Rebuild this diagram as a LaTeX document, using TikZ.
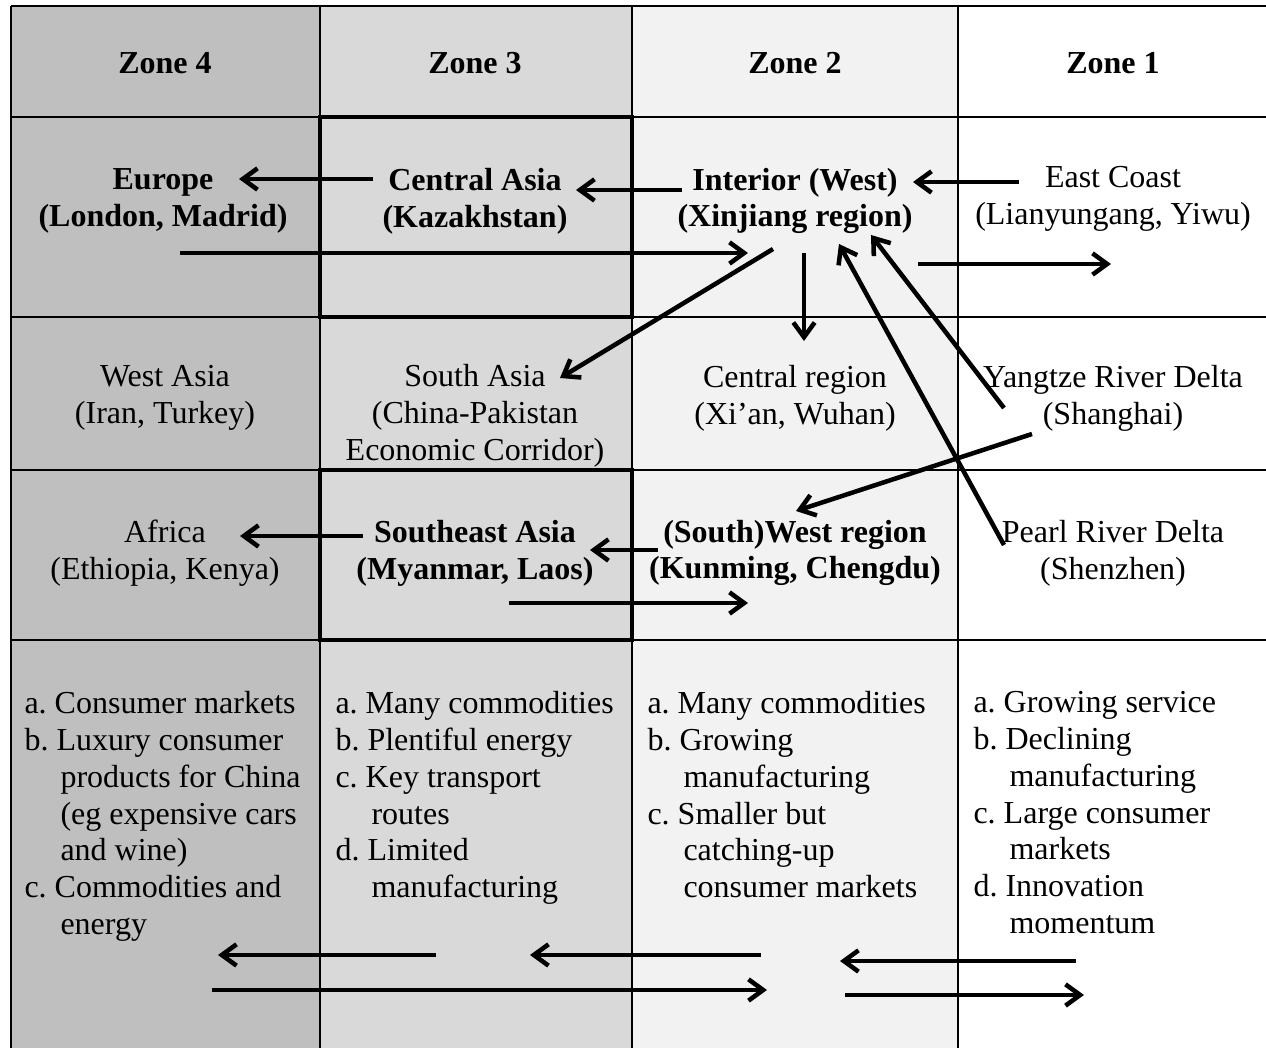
\documentclass[tikz,border=0pt]{standalone}
\usepackage{fontspec}
\setmainfont{Liberation Serif}
\usetikzlibrary{arrows.meta}

\definecolor{zfour}{gray}{0.75}
\definecolor{zthree}{gray}{0.85}
\definecolor{ztwo}{gray}{0.95}

\newcommand{\ind}{\hspace*{13.5pt}}

\tikzset{
  cell/.style={align=center, inner sep=0pt, font=\fontsize{12}{13.8}\selectfont},
  bcell/.style={cell, font=\fontsize{12}{13.8}\selectfont\bfseries},
  list/.style={align=left, anchor=north west, inner sep=0pt, font=\fontsize{12}{13.8}\selectfont\frenchspacing},
  arr/.style={line width=1.7pt, -{Straight Barb[length=5.5pt,width=8pt]}},
  grid/.style={line width=0.75pt},
  box/.style={line width=1.8pt}
}

\begin{document}
\begin{tikzpicture}[x=0.375pt, y=-0.375pt]
    \useasboundingbox (0, 0) rectangle (1266, 1048);
    % zone columns
    \fill [zfour]      (11, 6) rectangle (320, 1048);
    \fill [zthree]     (320, 6) rectangle (632, 1048);
    \fill [ztwo]       (632, 6) rectangle (958, 1048);
    \foreach \y in {6, 117, 317, 470, 640}
      \draw [grid]     (11, \y) -- (1266, \y);
    \foreach \x in {11, 320, 632, 958}
      \draw [grid]     (\x, 6) -- (\x, 1048);
    \draw [box]        (320, 117) rectangle (632, 317);
    \draw [box]        (320, 470) rectangle (632, 640);
    % header
    \node [bcell] (z4) at (165, 63) {Zone 4};
    \node [bcell] (z3) at (475, 63) {Zone 3};
    \node [bcell] (z2) at (795, 63) {Zone 2};
    \node [bcell] (z1) at (1113, 63) {Zone 1};
    % row 1
    \node [bcell] (eu) at (163, 201) {Europe\\(London, Madrid)};
    \node [bcell] (ca) at (475, 201) {Central Asia\\(Kazakhstan)};
    \node [bcell] (xj) at (795, 201) {Interior (West)\\(Xinjiang region)};
    \node [cell]  (ec) at (1113, 199) {East Coast\\(Lianyungang, Yiwu)};
    % row 2
    \node [cell]  (wa) at (165, 398) {West Asia\\(Iran, Turkey)};
    \node [cell]  (sa) at (475, 416) {South Asia\\(China-Pakistan\\Economic Corridor)};
    \node [cell]  (cr) at (795, 398) {Central region\\(Xi’an, Wuhan)};
    \node [cell]  (yr) at (1113, 398) {Yangtze River Delta\\(Shanghai)};
    % row 3
    \node [cell]  (af) at (165, 553) {Africa\\(Ethiopia, Kenya)};
    \node [bcell] (se) at (475, 553) {Southeast Asia\\(Myanmar, Laos)};
    \node [bcell] (sw) at (795, 553) {(South)West region\\(Kunming, Chengdu)};
    \node [cell]  (pr) at (1113, 553) {Pearl River Delta\\(Shenzhen)};
    % row 4
    \node [list] (l4) at (24, 691) {a. Consumer markets\\b. Luxury consumer\\\ind products for China\\\ind (eg expensive cars\\\ind and wine)\\c. Commodities and\\\ind energy};
    \node [list] (l3) at (335, 691) {a. Many commodities\\b. Plentiful energy\\c. Key transport\\\ind routes\\d. Limited\\\ind manufacturing};
    \node [list] (l2) at (647, 691) {a. Many commodities\\b. Growing\\\ind manufacturing\\c. Smaller but\\\ind catching-up\\\ind consumer markets};
    \node [list] (l1) at (973, 691) {a. Growing service\\b. Declining\\\ind manufacturing\\c. Large consumer\\\ind markets\\d. Innovation\\\ind momentum};
    % arrow ends
    \coordinate (ca-w) at (373, 179);
    \coordinate (eu-e) at (239, 179);
    \coordinate (xj-w) at (682, 190);
    \coordinate (ca-e) at (576, 190);
    \coordinate (eu-s) at (180, 253);
    \coordinate (xj-sw) at (748, 253);
    \coordinate (ec-w) at (1019, 182);
    \coordinate (xj-e) at (913, 182);
    \coordinate (xj-se) at (918, 264);
    \coordinate (ec-s) at (1111, 264);
    \coordinate (xj-s1) at (773, 249);
    \coordinate (sa-e) at (560, 378);
    \coordinate (xj-s2) at (804, 253);
    \coordinate (cr-n) at (804, 341);
    \coordinate (yr-w1) at (1004, 408);
    \coordinate (xj-s3) at (871, 235);
    \coordinate (pr-w) at (1004, 545);
    \coordinate (xj-s4) at (839, 244);
    \coordinate (yr-w2) at (1032, 434);
    \coordinate (sw-n) at (796, 511);
    \coordinate (sw-w) at (658, 550);
    \coordinate (se-e) at (590, 550);
    \coordinate (se-w) at (363, 536);
    \coordinate (af-e) at (240, 536);
    \coordinate (se-s) at (509, 603);
    \coordinate (sw-s) at (748, 603);
    % row 1 and 3 flows
    \draw [arr] (ca-w) -- (eu-e);
    \draw [arr] (xj-w) -- (ca-e);
    \draw [arr] (eu-s) -- (xj-sw);
    \draw [arr] (ec-w) -- (xj-e);
    \draw [arr] (xj-se) -- (ec-s);
    \draw [arr] (xj-s1) -- (sa-e);
    \draw [arr] (xj-s2) -- (cr-n);
    \draw [arr] (yr-w1) -- (xj-s3);
    \draw [arr] (pr-w) -- (xj-s4);
    \draw [arr] (yr-w2) -- (sw-n);
    \draw [arr] (sw-w) -- (se-e);
    \draw [arr] (se-w) -- (af-e);
    \draw [arr] (se-s) -- (sw-s);
    % row 4 flows
    \coordinate (b3a) at (436, 955);
    \coordinate (b4a) at (218, 955);
    \coordinate (b2a) at (761, 955);
    \coordinate (b3b) at (530, 955);
    \coordinate (b1a) at (1076, 961);
    \coordinate (b2b) at (840, 961);
    \coordinate (b4c) at (212, 990);
    \coordinate (b2c) at (767, 990);
    \coordinate (b2d) at (845, 995);
    \coordinate (b1d) at (1084, 995);
    \draw [arr] (b3a) -- (b4a);
    \draw [arr] (b2a) -- (b3b);
    \draw [arr] (b1a) -- (b2b);
    \draw [arr] (b4c) -- (b2c);
    \draw [arr] (b2d) -- (b1d);
  \end{tikzpicture}
\end{document}
